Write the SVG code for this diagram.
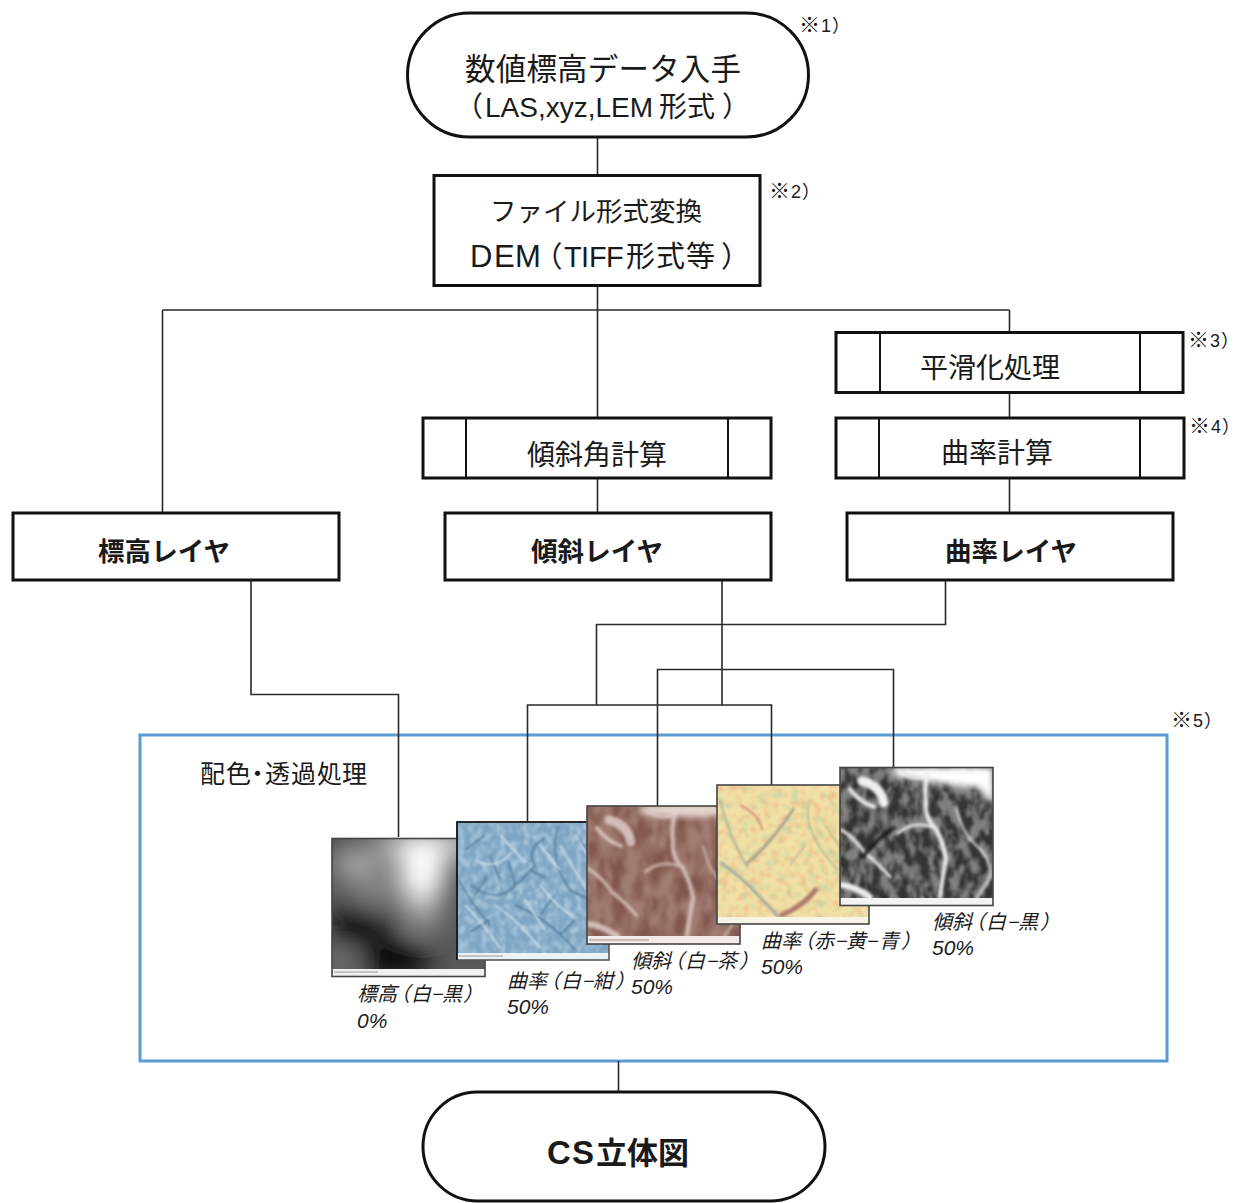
<svg xmlns="http://www.w3.org/2000/svg" width="1241" height="1203" viewBox="0 0 1241 1203">
<style>
text{font-family:"Liberation Sans","Noto Sans CJK JP",sans-serif;fill:#1a1a1a}
.s{fill:#fff;stroke:#111;stroke-width:3}
.i{fill:none;stroke:#111;stroke-width:2}
.c{fill:none;stroke:#2a2a2a;stroke-width:1.6}
.b{font-weight:700}
.n{font-size:18px}
.m{font-size:21px}
.l{font-size:20px;font-style:italic}
.p{font-size:21px;font-style:italic}
.f{fill:none;stroke:#444;stroke-width:1.6}
.pa{font-feature-settings:"palt"}
</style>
<defs>
<filter id="b6" x="-40%" y="-40%" width="180%" height="180%"><feGaussianBlur stdDeviation="13"/></filter>
<filter id="b2" x="-30%" y="-30%" width="160%" height="160%"><feGaussianBlur stdDeviation="1"/></filter>
<filter id="b4" x="-30%" y="-30%" width="160%" height="160%"><feGaussianBlur stdDeviation="1.600"/></filter>
<filter id="b3" x="-30%" y="-30%" width="160%" height="160%"><feGaussianBlur stdDeviation="3"/></filter>
<filter id="tb" x="0" y="0" width="100%" height="100%" color-interpolation-filters="sRGB"><feTurbulence type="fractalNoise" baseFrequency="0.17 0.12" numOctaves="2" seed="4"/><feColorMatrix values="0 0 0 0 .86  0 0 0 0 .93  0 0 0 0 .97  3 0 0 0 -1.2"/><feGaussianBlur stdDeviation="1"/></filter>
<filter id="tr" x="0" y="0" width="100%" height="100%" color-interpolation-filters="sRGB"><feTurbulence type="fractalNoise" baseFrequency="0.08 0.04" numOctaves="3" seed="9"/><feColorMatrix values="0 0 0 0 .42  0 0 0 0 .24  0 0 0 0 .21  3 0 0 0 -1.1"/><feGaussianBlur stdDeviation="1.500"/></filter>
<filter id="ty" x="0" y="0" width="100%" height="100%" color-interpolation-filters="sRGB"><feTurbulence type="fractalNoise" baseFrequency="0.14" numOctaves="2" seed="15"/><feColorMatrix values="0 0 0 0 .93  0 0 0 0 .68  0 0 0 0 .5  4 0 0 0 -1.9"/><feGaussianBlur stdDeviation=".8"/></filter>
<filter id="tv" x="0" y="0" width="100%" height="100%" color-interpolation-filters="sRGB"><feTurbulence type="fractalNoise" baseFrequency="0.12" numOctaves="2" seed="31"/><feColorMatrix values="0 0 0 0 .68  0 0 0 0 .82  0 0 0 0 .66  4 0 0 0 -2.1"/><feGaussianBlur stdDeviation=".8"/></filter>
<filter id="tg" x="0" y="0" width="100%" height="100%" color-interpolation-filters="sRGB"><feTurbulence type="fractalNoise" baseFrequency="0.1 0.06" numOctaves="3" seed="21"/><feColorMatrix values="0 0 0 0 .1  0 0 0 0 .1  0 0 0 0 .1  4 0 0 0 -1.5"/><feGaussianBlur stdDeviation="1.300"/></filter>
<clipPath id="p1"><rect x="332" y="838" width="153" height="138"/></clipPath>
<clipPath id="p2"><rect x="457" y="822" width="152" height="138"/></clipPath>
<clipPath id="p3"><rect x="587" y="806" width="153" height="138"/></clipPath>
<clipPath id="p4"><rect x="717" y="785" width="152" height="139"/></clipPath>
<clipPath id="p5"><rect x="840" y="767" width="153" height="138"/></clipPath>
<g id="valley" fill="none" stroke-linecap="round">
<path d="M88 5Q84 22 86 36Q84 50 96 62Q104 78 106 92Q102 112 100 130" stroke-width="4"/>
<path d="M0 62Q14 70 25 86Q40 98 50 110" stroke-width="3"/>
<path d="M60 6Q78 16 88 6M58 66Q76 52 96 62" stroke-width="2.500"/>
<path d="M116 40Q122 66 136 78Q152 92 150 110Q142 124 136 132" stroke-width="1.800"/>
<path d="M2 118Q16 120 30 130" stroke-width="6"/>
<path d="M22 14Q40 18 44 36" stroke-width="9"/>
<path d="M10 22Q18 34 34 40" stroke-width="4"/>
</g>
</defs>

<g id="node-compose"><rect x="140" y="735" width="1027" height="326" fill="none" stroke="#5b9bd5" stroke-width="3"/>
<text x="200 226 245 265 291 317 342" y="783" font-size="25">配色・透過処理</text>
<text class="n" y="727"><tspan class="m" x="1171">※</tspan><tspan x="1193 1204">5）</tspan></text></g>

<g id="connectors">
<path class="c" d="M597.500 137V175M597.500 285V418M162.500 310H1009.500M162.500 310V513M1009.500 310V332M1009.500 392V418M1009.500 478V513M597.500 478V513"/>
<path class="c" d="M251 580V694.500H398.500V837M945.500 580V624.500H596.500V705M722 580V705M527.500 821V705H771.500V785M657.500 806V669.500H893.500V767M618.500 1061V1092"/>
</g>

<g id="node-source"><rect class="s" x="407.500" y="13" width="401" height="124" rx="62"/>
<text x="465" y="80" font-size="30.500" textLength="276">数値標高データ入手</text>
<text y="117" font-size="28"><tspan x="455">（</tspan><tspan x="485">LAS,xyz,LEM</tspan><tspan x="659">形式</tspan><tspan x="722">）</tspan></text>
<text class="n" y="31.500"><tspan class="m" x="799">※</tspan><tspan x="821 832">1）</tspan></text></g>

<g id="node-convert"><rect class="s" x="434" y="175.500" width="326" height="110"/>
<text x="490" y="221" font-size="26.500" textLength="212">ファイル形式変換</text>
<text y="267" font-size="29"><tspan font-size="31" x="470 494 515">DEM</tspan><tspan class="pa" x="547">（</tspan><tspan x="564 581 589 606 626 656 686">TIFF形式等</tspan><tspan class="pa" x="722">）</tspan></text>
<text class="n" y="198"><tspan class="m" x="769">※</tspan><tspan x="791 802">2）</tspan></text></g>

<g id="node-smooth"><rect class="s" x="836" y="332.500" width="347" height="60"/><path class="i" d="M880 332.500V392.500M1140 332.500V392.500"/>
<text x="920" y="378" font-size="28" textLength="140">平滑化処理</text>
<text class="n" y="347"><tspan class="m" x="1188">※</tspan><tspan x="1210 1221">3）</tspan></text></g>

<g id="node-curvature-calc"><rect class="s" x="836" y="418" width="348" height="60"/><path class="i" d="M879 418V478M1140 418V478"/>
<text x="941" y="463" font-size="28" textLength="112">曲率計算</text>
<text class="n" y="433"><tspan class="m" x="1189">※</tspan><tspan x="1211 1222">4）</tspan></text></g>

<g id="node-slope-calc"><rect class="s" x="423" y="418" width="348" height="60"/><path class="i" d="M466 418V478M728 418V478"/>
<text x="527" y="465" font-size="28" textLength="140">傾斜角計算</text></g>

<g id="node-elevation"><rect class="s" x="13" y="513" width="326" height="67"/>
<text class="b" x="98" y="561" font-size="26.500" textLength="132">標高レイヤ</text></g>
<g id="node-slope"><rect class="s" x="445" y="513" width="326" height="67"/>
<text class="b" x="531" y="561" font-size="26.500" textLength="132">傾斜レイヤ</text></g>
<g id="node-curvature"><rect class="s" x="847" y="513" width="326" height="67"/>
<text class="b" x="945" y="561" font-size="26.500" textLength="132">曲率レイヤ</text></g>

<g id="layer-elevation">
<g clip-path="url(#p1)"><rect x="332" y="838" width="153" height="138" fill="#585858"/>
<g filter="url(#b6)"><ellipse cx="430" cy="844" rx="55" ry="12" fill="#e0e0e0"/><ellipse cx="422" cy="868" rx="24" ry="36" fill="#fff"/><ellipse cx="358" cy="864" rx="26" ry="16" fill="#aaa"/><circle cx="334" cy="840" r="12" fill="#222"/><ellipse cx="375" cy="893" rx="22" ry="12" fill="#888"/><ellipse cx="352" cy="925" rx="18" ry="22" fill="#000"/><ellipse cx="396" cy="960" rx="36" ry="16" fill="#000"/><ellipse cx="422" cy="915" rx="22" ry="16" fill="#999"/><ellipse cx="342" cy="960" rx="14" ry="8" fill="#888"/><ellipse cx="385" cy="928" rx="14" ry="16" fill="#111"/></g>
<rect x="332" y="969" width="153" height="7" fill="#f0f0f0"/><rect x="334" y="971" width="44" height="2" fill="#c4c4c4"/></g>
<rect class="f" x="332" y="838.500" width="153" height="138"/></g>

<g id="layer-curv-blue">
<g clip-path="url(#p2)"><rect x="457" y="822" width="152" height="138" fill="#7ea5c3"/><rect x="457" y="822" width="152" height="138" filter="url(#tb)" opacity=".45"/>
<g fill="none" stroke="#4c7696" stroke-width="1.500" filter="url(#b2)"><path d="M470 885Q500 905 515 885Q525 878 535 865Q525 850 545 838"/><path d="M459 880Q472 905 490 925M475 895L487 877M500 880L490 855M515 885L508 860M530 870L545 878"/><path d="M515 905Q550 920 575 950M540 915L555 895M560 935L575 920M585 945L600 930"/><path d="M558 826Q548 860 570 890M570 890L590 900M578 840L596 858"/><path d="M598 836Q596 870 605 905M470 932L490 920M465 850L485 835"/></g>
<g fill="none" stroke="#d4e4ee" stroke-width="1.500" filter="url(#b2)"><path d="M560 845Q580 880 597 905M575 835Q590 860 606 880M475 860Q495 872 512 852M495 905Q520 922 540 948M465 905Q485 925 500 948M540 885Q555 905 575 918M525 900L545 930M590 915L602 945M500 835L525 862M540 845L560 870"/></g>
<rect x="457" y="953" width="152" height="7" fill="#eaf3f5"/><rect x="459" y="955" width="44" height="2" fill="#c4c4c4"/></g>
<rect x="457" y="822" width="152" height="138" fill="none" stroke="#555" stroke-width="1.600"/><path d="M457 960V822H587" fill="none" stroke="#111" stroke-width="1.600"/></g>

<g id="layer-slope-brown">
<g clip-path="url(#p3)"><rect x="587" y="806" width="153" height="138" fill="#a07c72"/><rect x="587" y="806" width="153" height="138" filter="url(#tr)" opacity=".6"/>
<ellipse cx="690" cy="810" rx="52" ry="7" fill="#e6d6d0" filter="url(#b3)"/>
<use href="#valley" transform="translate(587 806)" stroke="#e4d2cc" filter="url(#b4)" opacity=".8"/>
<rect x="587" y="936" width="153" height="8" fill="#f3ebe8"/><rect x="589" y="939" width="60" height="2" fill="#cbbab4"/></g>
<rect class="f" x="587" y="806" width="153" height="138"/></g>

<g id="layer-curv-yellow">
<g clip-path="url(#p4)"><rect x="717" y="785" width="152" height="139" fill="#f1e1a6"/><rect x="717" y="785" width="152" height="139" filter="url(#ty)" opacity=".55"/><rect x="717" y="785" width="152" height="139" filter="url(#tv)" opacity=".55"/>
<g fill="none" filter="url(#b2)"><path d="M720 862Q745 880 758 895Q772 910 780 918" stroke="#a8ac9c" stroke-width="3"/><path d="M745 865Q770 845 794 808" stroke="#a9a08c" stroke-width="3"/><path d="M780 916Q805 905 817 888" stroke="#b17d6f" stroke-width="5"/><path d="M720 800Q728 835 748 868" stroke="#a9b79a" stroke-width="2"/><path d="M810 800Q800 830 838 870M825 825L845 855" stroke="#b4b98f" stroke-width="1.600"/><path d="M740 805Q760 815 762 830" stroke="#d79a80" stroke-width="2.500"/><path d="M790 865L805 845" stroke="#c5b99a" stroke-width="2"/></g>
<rect x="717" y="917" width="152" height="7" fill="#f7f4e6"/></g>
<rect class="f" x="717" y="785" width="152" height="139"/></g>

<g id="layer-slope-gray">
<g clip-path="url(#p5)"><rect x="840" y="767" width="153" height="138" fill="#808080"/><rect x="840" y="767" width="153" height="138" filter="url(#tg)" opacity=".75"/>
<path d="M893 767H993V805L980 788Q940 785 893 775Z" fill="#fff" filter="url(#b3)"/>
<use href="#valley" transform="translate(840 767)" stroke="#f0f0f0" filter="url(#b4)"/>
<path d="M895 827Q875 840 862 858" fill="none" stroke="#111" stroke-width="3" filter="url(#b4)"/>
<rect x="840" y="898" width="153" height="7" fill="#f3f3f3"/></g>
<rect class="f" x="840" y="767.500" width="153" height="138"/></g>

<g id="layer-labels">
<text class="l" x="357 377 390 411 432 442 463" y="1001">標高（白−黒）</text><text class="p" x="357" y="1028">0%</text>
<text class="l" x="507 527 540 561 583 593 615" y="988">曲率（白−紺）</text><text class="p" x="507" y="1014">50%</text>
<text class="l" x="631 651 664 685 707 717 739" y="968">傾斜（白−茶）</text><text class="p" x="631" y="994">50%</text>
<text class="l" x="761 781 794 814 836 846 867 879 901" y="948">曲率（赤−黄−青）</text><text class="p" x="761" y="974">50%</text>
<text class="l" x="932 952 965 986 1008 1018 1040" y="929">傾斜（白−黒）</text><text class="p" x="932" y="955">50%</text>
</g>

<g id="node-result"><rect class="s" x="423" y="1092" width="402" height="109" rx="54.500"/>
<text class="b" y="1164" font-size="31"><tspan font-size="33" x="547 572">CS</tspan><tspan x="596 627 658">立体図</tspan></text></g>
</svg>
